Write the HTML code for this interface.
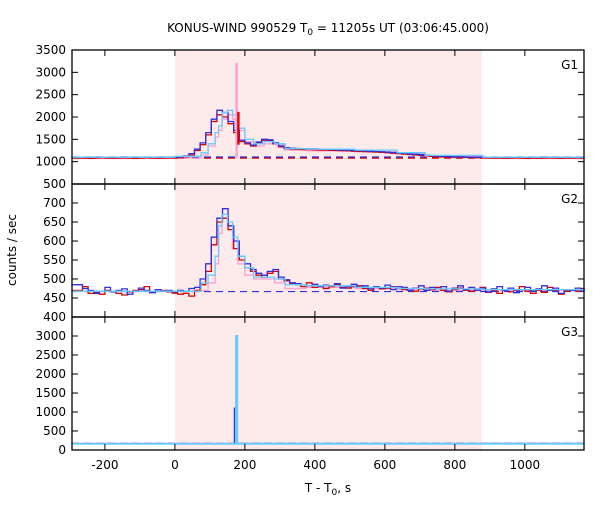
<!DOCTYPE html>
<html><head><meta charset="utf-8"><style>
body{margin:0;background:#fff;font-family:"Liberation Sans","DejaVu Sans",sans-serif}
svg text{font-family:"DejaVu Sans","Liberation Sans",sans-serif;font-size:12px;fill:#000}
</style></head><body>
<svg id="c" width="600" height="500"></svg>
<script>
const binStart=-280, binWidth=16;
const g1Red=[1080,1080,1075,1080,1085,1080,1078,1080,1082,1080,1076,1080,1085,1080,1078,1080,1082,1080,1090,1110,1150,1250,1380,1600,1900,2050,2000,1850,1650,1450,1400,1350,1420,1480,1470,1400,1330,1290,1280,1275,1270,1270,1265,1260,1258,1255,1250,1245,1240,1235,1230,1225,1220,1215,1210,1200,1190,1180,1170,1160,1150,1140,1130,1120,1110,1105,1100,1100,1098,1095,1090,1088,1085,1082,1080,1080,1078,1080,1082,1080,1076,1080,1078,1080,1082,1080,1078,1080,1080,1082,1078,1080];
const g1Blue=[1100,1095,1100,1105,1098,1100,1096,1100,1104,1098,1100,1102,1096,1100,1098,1104,1100,1098,1110,1130,1180,1280,1420,1650,1950,2150,2100,1900,1700,1480,1420,1370,1440,1500,1490,1420,1350,1310,1300,1295,1290,1285,1285,1280,1275,1270,1265,1260,1255,1250,1245,1240,1235,1228,1220,1212,1205,1195,1185,1175,1165,1155,1145,1135,1125,1120,1115,1110,1108,1105,1102,1100,1100,1098,1100,1102,1098,1100,1096,1100,1102,1098,1100,1104,1098,1100,1096,1100,1102,1098,1100,1100];
const g2Red=[470,480,462,465,460,470,468,462,458,466,470,472,480,465,468,470,466,463,460,462,455,470,485,520,590,650,660,630,580,550,530,520,510,505,515,520,500,495,488,485,480,490,478,482,475,480,485,478,476,480,482,475,470,478,474,476,480,475,472,470,468,474,476,472,478,470,466,472,476,470,468,474,478,465,470,462,472,466,470,480,468,462,470,465,478,470,460,468,472,468,475,470];
const g2Blue=[485,475,470,462,468,478,466,470,474,460,468,476,470,464,472,468,470,466,470,468,475,478,500,540,610,660,685,640,600,560,540,525,515,510,520,525,505,498,490,488,485,482,486,480,484,482,488,476,480,486,478,482,474,480,476,484,472,480,478,470,476,482,470,478,474,480,468,476,482,472,478,470,476,466,474,480,470,476,464,472,478,468,474,482,470,476,462,472,470,476,468,474];
const lbEdges=[-294,-100,0,75,95,115,125,135,150,165,180,200,225,255,285,315,375,515,635,715,880,1169];
const g1Pink=[1070,1070,1080,1150,1350,1550,1700,1950,2050,1950,1700,1450,1350,1400,1380,1260,1240,1220,1180,1120,1070];
const g1LBlue=[1100,1100,1120,1200,1400,1650,1800,2100,2150,2050,1750,1500,1400,1450,1400,1290,1280,1260,1200,1140,1100];
const g2Pink=[468,468,468,470,490,540,620,670,640,580,540,510,500,500,490,475,478,475,472,470,470];
const g2LBlue=[468,468,468,490,510,560,640,670,650,610,560,530,505,505,500,485,482,478,475,474,472];
const g3Edges=[-294,170,175,178,1169];
const g3Blue=[160,1100,170,170];
const g3LBlue=[165,165,3000,165];
const g3Pink=[175,175,175,175];
const spikeT=[178,183], spikeG1Pink=[3200,1080], spikeG1Red=[1080,2100];
const bkgG1Red=1080, bkgG1Blue=1105, bkgG2=467, bkgG3Red=175, bkgG3Blue=170;
const xTicks=[-200,0,200,400,600,800,1000];
const panels=[
 {top:50,bot:184,min:500,max:3500,ticks:[500,1000,1500,2000,2500,3000,3500],name:'G1'},
 {top:184,bot:317,min:400,max:750,ticks:[400,450,500,550,600,650,700],name:'G2'},
 {top:317,bot:450,min:0,max:3500,ticks:[0,500,1000,1500,2000,2500,3000],name:'G3'}];
const L=72,R=584,xmin=-294,xmax=1169;
const X=t=>L+(Math.max(xmin,Math.min(xmax,t))-xmin)/(xmax-xmin)*(R-L);
const svg=document.getElementById('c');const NS='http://www.w3.org/2000/svg';
function mk(tag,at,parent){const e=document.createElementNS(NS,tag);for(const k in at)e.setAttribute(k,at[k]);(parent||svg).appendChild(e);return e;}
const sh=mk('rect',{x:X(0),y:50,width:X(877)-X(0),height:400,fill:'#fdeaea'});


function stepPath(edges,vals,Y){let d='';for(let i=0;i<vals.length&&i+1<edges.length;i++){const x0=X(edges[i]),x1=X(edges[i+1]),y=Y(vals[i]);d+=(i?'L':'M')+x0.toFixed(1)+','+y.toFixed(1)+'L'+x1.toFixed(1)+','+y.toFixed(1);}return d;}
const uniEdges=[xmin];for(let i=1;i<=92;i++)uniEdges.push(Math.min(binStart+i*binWidth,xmax));
function series(d,color,name,w){const p=mk('path',{d:d,fill:'none',stroke:color,'stroke-width':w||1.3});

}
function dashed(v,Y,color,name){const p=mk('line',{x1:L,x2:R,y1:Y(v),y2:Y(v),stroke:color,'stroke-width':1.2,'stroke-dasharray':'7,5'});

}
panels.forEach((p,k)=>{
 const Y=v=>p.bot-(v-p.min)/(p.max-p.min)*(p.bot-p.top);
 const n=p.name.toLowerCase();
 if(k===0){dashed(bkgG1Red,Y,'#e00000',n+'-bkg-red');dashed(bkgG1Blue,Y,'#3030e0',n+'-bkg-blue');
  series(stepPath(lbEdges,g1Pink,Y),'#ff9fd0',n+'-pink-series');
  series(stepPath(uniEdges,g1Red,Y),'#e00000',n+'-red-series');
  series(stepPath(uniEdges,g1Blue,Y),'#3030e0',n+'-blue-series');
  series(stepPath(lbEdges,g1LBlue,Y),'#66ccff',n+'-lightblue-series');
  series('M'+X(spikeT[0]-3)+','+Y(spikeG1Pink[1])+'L'+X(spikeT[0]-3)+','+Y(spikeG1Pink[0])+'L'+X(spikeT[0])+','+Y(spikeG1Pink[0])+'L'+X(spikeT[0])+','+Y(spikeG1Pink[1]),'#ff9fd0',n+'-pink-spike');
  series('M'+X(spikeT[1]-3)+','+Y(spikeG1Red[0]+300)+'L'+X(spikeT[1]-3)+','+Y(spikeG1Red[1])+'L'+X(spikeT[1])+','+Y(spikeG1Red[1])+'L'+X(spikeT[1])+','+Y(spikeG1Red[0]+300),'#e00000',n+'-red-spike');
 } else if(k===1){dashed(bkgG2,Y,'#3030e0',n+'-bkg-blue');
  series(stepPath(lbEdges,g2Pink,Y),'#ff9fd0',n+'-pink-series');
  series(stepPath(uniEdges,g2Red,Y),'#e00000',n+'-red-series');
  series(stepPath(uniEdges,g2Blue,Y),'#3030e0',n+'-blue-series');
  series(stepPath(lbEdges,g2LBlue,Y),'#66ccff',n+'-lightblue-series');
 } else {
  series(stepPath(g3Edges,g3Pink,Y),'#ff9fd0',n+'-pink-series');
  dashed(bkgG3Red,Y,'#e00000',n+'-bkg-red');dashed(bkgG3Blue,Y,'#3030e0',n+'-bkg-blue');
  series(stepPath(g3Edges,g3Blue,Y),'#3030e0',n+'-blue-series');
  series(stepPath(g3Edges,g3LBlue,Y),'#66ccff',n+'-lightblue-series',2);
 }
 const fr=mk('rect',{x:L,y:p.top,width:R-L,height:p.bot-p.top,fill:'none',stroke:'#000','stroke-width':1.3});
 
 
 p.ticks.forEach(v=>{const y=Y(v);
  mk('line',{x1:L,x2:L+6,y1:y,y2:y,stroke:'#000'});mk('line',{x1:R-6,x2:R,y1:y,y2:y,stroke:'#000'});
  if(!(k>0&&v===p.max)){const t=mk('text',{x:L-6,y:y+4,'text-anchor':'end'});t.textContent=v;
  
  }
 });
 xTicks.forEach(v=>{const x=X(v);mk('line',{x1:x,x2:x,y1:p.top,y2:p.top+6,stroke:'#000'});mk('line',{x1:x,x2:x,y1:p.bot-6,y2:p.bot,stroke:'#000'});});
 const lb=mk('text',{x:578,y:p.top+19,'text-anchor':'end'});lb.textContent=p.name;
 
 
});
xTicks.forEach(v=>{const t=mk('text',{x:X(v),y:469,'text-anchor':'middle'});t.textContent=v;
 
 });
const ti=mk('text',{x:328,y:32,'text-anchor':'middle'});ti.innerHTML='KONUS-WIND 990529 T<tspan font-size="9" dy="3">0</tspan><tspan dy="-3"> = 11205s UT (03:06:45.000)</tspan>';


const xl=mk('text',{x:328,y:492,'text-anchor':'middle'});xl.innerHTML='T - T<tspan font-size="9" dy="3">0</tspan><tspan dy="-3">, s</tspan>';


const yl=mk('text',{x:16,y:250,'text-anchor':'middle',transform:'rotate(-90 16 250)'});yl.textContent='counts / sec';


</script>
</body></html>
